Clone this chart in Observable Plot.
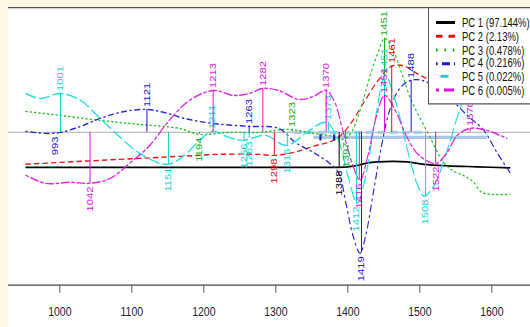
<!DOCTYPE html>
<html><head><meta charset="utf-8">
<script src="https://cdn.jsdelivr.net/npm/d3@7"></script>
<script src="https://cdn.jsdelivr.net/npm/@observablehq/plot@0.6"></script>
<style>
html,body{margin:0;padding:0;}
body{width:530px;height:327px;background:#fdf8e4;overflow:hidden;position:relative;}
#wrap{position:absolute;left:8px;top:7px;width:522px;height:256px;background:#fff;transform:scaleY(1.25);transform-origin:0 0;overflow:hidden;}
#wrap svg{display:block;}
#topline{position:absolute;left:0;top:0;width:522px;height:0;border-top:1.2px solid #555;}
#legend{position:absolute;left:420px;top:0;width:112px;height:78.4px;box-sizing:border-box;border:1px solid #555;background:#fff;padding-top:6.2px;font-family:"Liberation Sans",Arial,sans-serif;font-size:9.5px;color:#111;}
.row{height:10.8px;display:flex;align-items:center;white-space:nowrap;}
.row svg{margin-left:6px;flex:none;}
.row span{margin-left:7px;}
</style></head>
<body><div id="wrap"><div id="topline"></div></div>
<script>
// ---------- data ----------
const pcNames = ["PC 1 (97.144%)", "PC 2 (2.13%)", "PC 3 (0.478%)", "PC 4 (0.216%)", "PC 5 (0.022%)", "PC 6 (0.005%)"];
const xTicks = [1000, 1100, 1200, 1300, 1400, 1500, 1600];

const pc1W = [953,1056,1194,1332,1387,1400,1414,1428,1442,1462,1483,1506,1538,1580,1625];
const pc1V = [-0.35,-0.35,-0.35,-0.35,-0.35,-0.345,-0.33,-0.305,-0.295,-0.29,-0.295,-0.32,-0.335,-0.345,-0.355];

const pc2W = [953,1001,1056,1111,1166,1221,1276,1298,1325,1352,1380,1393,1407,1424,1442,1460,1476,1501,1531,1573,1625];
const pc2V = [-0.32,-0.30,-0.28,-0.26,-0.24,-0.22,-0.22,-0.23,-0.20,-0.14,-0.08,-0.01,0.12,0.32,0.52,0.66,0.67,0.57,0.47,0.37,0.30];

const pc3W = [953,1001,1056,1111,1166,1194,1235,1276,1318,1352,1380,1393,1404,1417,1431,1442,1451,1462,1476,1487,1497,1513,1531,1545,1563,1575,1586,1625];
const pc3V = [0.21,0.17,0.12,0.08,0.04,-0.02,0.0,0.0,0.03,-0.01,-0.04,-0.07,-0.01,0.22,0.57,0.80,0.94,0.84,0.57,0.34,0.19,-0.03,-0.28,-0.38,-0.44,-0.50,-0.60,-0.62];

const pc4W = [953,980,1001,1029,1056,1090,1121,1145,1173,1212,1263,1304,1327,1352,1373,1387,1398,1407,1417,1425,1436,1447,1458,1472,1487,1504,1525,1545,1566,1589,1607,1625];
const pc4V = [0.01,-0.01,0.0,0.06,0.14,0.21,0.23,0.20,0.14,0.09,0.06,0.04,-0.10,-0.20,-0.30,-0.40,-0.73,-1.03,-1.21,-1.03,-0.58,-0.13,0.22,0.44,0.52,0.52,0.44,0.32,0.17,0.02,-0.20,-0.40];

const pc5W = [953,973,1001,1029,1056,1084,1111,1149,1173,1194,1212,1235,1254,1286,1315,1345,1370,1387,1400,1413,1425,1439,1452,1466,1483,1497,1506,1520,1538,1555,1573,1593,1625];
const pc5V = [0.39,0.34,0.39,0.32,0.14,-0.05,-0.21,-0.32,-0.23,-0.08,0.01,-0.05,-0.08,-0.03,-0.13,0.01,0.10,-0.08,-0.43,-0.71,-0.43,0.17,0.57,0.32,-0.18,-0.53,-0.64,-0.53,-0.18,0.22,0.57,0.87,1.12];

const pc6W = [953,980,1015,1042,1070,1097,1125,1152,1180,1213,1242,1263,1282,1304,1332,1352,1370,1382,1393,1407,1417,1428,1439,1451,1466,1483,1499,1523,1538,1552,1570,1593,1621];
const pc6V = [-0.43,-0.51,-0.50,-0.51,-0.46,-0.31,-0.13,0.12,0.32,0.42,0.37,0.39,0.44,0.42,0.33,0.36,0.42,0.30,0.02,-0.33,-0.48,-0.23,0.14,0.37,0.22,-0.06,-0.23,-0.31,-0.20,-0.03,0.04,0.02,-0.06];

// labelled peaks (component, wavenumber, loading)
const peakPC = [1,2,2,3,3,3,3,4,4,4,4,4,5,5,5,5,5,5,5,5,5,5,6,6,6,6,6,6,6,6];
const peakW  = [1388,1298,1461,1194,1323,1397,1451,993,1121,1263,1419,1488,1001,1151,1211,1256,1263,1316,1373,1412,1451,1508,1042,1213,1282,1370,1416,1451,1522,1570];
const peakV  = [-0.35,-0.23,0.67,-0.02,0.03,-0.07,0.94,-0.01,0.23,0.06,-1.21,0.52,0.39,-0.32,0.01,-0.08,-0.06,-0.13,0.10,-0.71,0.57,-0.64,-0.51,0.42,0.44,0.42,-0.48,0.37,-0.31,0.04];

// light-blue marker bands along the baseline
const bandW1 = [1325, 1352];
const bandW2 = [1506, 1593];
const bandV  = [0.0, -0.05];
const markW  = [1362, 1381];
const markV  = [-0.05, -0.05];

// ---------- styles ----------
const curveColors = ["#000000", "#e81818", "#22c422", "#2a2ad0", "#22dede", "#e024e0"];
const labelColors = ["#000000", "#e01010", "#10b010", "#1818c8", "#10d4d4", "#e010e0"];
const curveDash = [null, "4.5 4", "1.3 3", "1.3 3.5 5 3.5", "10 4", "2.6 2.6 7.8 2.6"];
const legendDash = [null, "6.5 6", "1.6 6.8", "1.6 4.4 8 4", null, "3 5 10 5"];
const legendX = [[1,20],[1,20],[1,20],[1,20],[5.5,13.5],[1,20]];

const curves = [[pc1W,pc1V],[pc2W,pc2V],[pc3W,pc3V],[pc4W,pc4V],[pc5W,pc5V],[pc6W,pc6V]]
  .map(([ws, vs]) => ws.map((w, i) => ({w, v: vs[i]})));
const peaks = peakW.map((w, i) => ({pc: peakPC[i], w, v: peakV[i], label: String(w)}));
const bands = bandW1.map((w1, i) => ({w1, w2: bandW2[i], v: bandV[i]}));
const marks2 = markW.map((w, i) => ({w, v: markV[i]}));

const yDomain = [-1.53, 1.25];

const marks = [
  Plot.ruleY([0], {stroke: "#bdbdbd", strokeWidth: 1}),
  Plot.link([bands[1]], {x1: "w1", x2: "w2", y1: "v", y2: "v", stroke: "#a9c9e6", strokeWidth: 2.6}),
  Plot.link([bands[0]], {x1: "w1", x2: "w2", y1: "v", y2: "v", stroke: "#a9c9e6", strokeWidth: 2.6, strokeDasharray: "8 4"}),
];
curves.forEach((data, k) => {
  marks.push(Plot.line(data, {x: "w", y: "v", stroke: curveColors[k], strokeWidth: k === 0 ? 1.3 : 1.15,
    strokeDasharray: curveDash[k] || undefined, curve: "catmull-rom"}));
});
marks.push(Plot.link(marks2, {x1: "w", x2: "w", y1: d => d.v + 0.03, y2: d => d.v - 0.03, stroke: "#1a2a9a", strokeWidth: 2.2}));
for (let k = 1; k <= 6; k++) {
  const sub = peaks.filter(d => d.pc === k);
  marks.push(Plot.ruleX(sub, {x: "w", y1: 0, y2: "v", stroke: labelColors[k-1], strokeWidth: 1}));
  marks.push(Plot.text(sub.filter(d => d.v >= 0), {x: "w", y: "v", text: "label", rotate: -90, textAnchor: "start",
    dy: -2, fill: labelColors[k-1], fontSize: 9}));
  marks.push(Plot.text(sub.filter(d => d.v < 0), {x: "w", y: "v", text: "label", rotate: -90, textAnchor: "end",
    dy: 2.5, fill: labelColors[k-1], fontSize: 9}));
}
marks.push(Plot.ruleY([yDomain[0]], {stroke: "#444", strokeWidth: 1}));
marks.push(Plot.axisX({ticks: xTicks, tickFormat: d => String(d), tickSize: 6.5, tickPadding: 11, stroke: "#555", fill: "#222", fontSize: 10.5}));

const chart = Plot.plot({
  width: 522, height: 256,
  marginTop: 0, marginBottom: 34, marginLeft: 0, marginRight: 0,
  style: {background: "#fff", fontFamily: "'Liberation Sans', Arial, sans-serif", fontSize: "10.5px", overflow: "visible"},
  x: {domain: [928.75, 1653.75], label: null},
  y: {domain: yDomain, axis: null},
  marks
});
const wrap = document.getElementById("wrap");
wrap.insertBefore(chart, wrap.firstChild);

// legend
const legend = document.createElement("div");
legend.id = "legend";
pcNames.forEach((name, k) => {
  const row = document.createElement("div");
  row.className = "row";
  const dash = legendDash[k] ? ` stroke-dasharray="${legendDash[k]}"` : "";
  row.innerHTML = `<svg width="20" height="10.8"><line x1="${legendX[k][0]}" x2="${legendX[k][1]}" y1="5.4" y2="5.4" stroke="${labelColors[k]}" stroke-width="2.4"${dash}/></svg><span>${name}</span>`;
  legend.appendChild(row);
});
wrap.appendChild(legend);
</script></body></html>
